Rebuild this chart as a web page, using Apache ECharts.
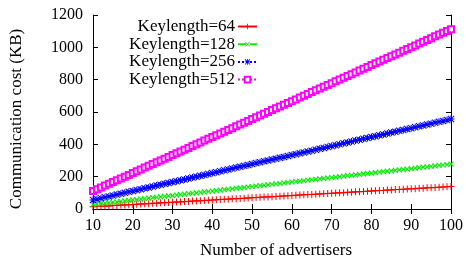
<!DOCTYPE html>
<html>
<head>
    <meta charset="utf-8">
    <script src="https://cdn.jsdelivr.net/npm/echarts@6/dist/echarts.min.js"></script>
</head>
<body style="margin:0;background:#fff;">
    <div id="container" style="width:466px;height:259px;"></div>
    <script type="text/javascript">
        // number of advertisers (x)
        var advertisers = [10, 11, 12, 13, 14, 15, 16, 17, 18, 19, 20, 21, 22, 23, 24, 25, 26, 27, 28, 29,
            30, 31, 32, 33, 34, 35, 36, 37, 38, 39, 40, 41, 42, 43, 44, 45, 46, 47, 48, 49,
            50, 51, 52, 53, 54, 55, 56, 57, 58, 59, 60, 61, 62, 63, 64, 65, 66, 67, 68, 69,
            70, 71, 72, 73, 74, 75, 76, 77, 78, 79, 80, 81, 82, 83, 84, 85, 86, 87, 88, 89,
            90, 91, 92, 93, 94, 95, 96, 97, 98, 99, 100];
        var cost64 = [14, 15, 17, 18, 19, 21, 22, 24, 25, 26, 28, 29, 31, 32, 33, 35, 36, 38, 39, 40,
            42, 43, 44, 46, 47, 49, 50, 51, 53, 54, 56, 57, 58, 60, 61, 63, 64, 65, 67, 68,
            70, 71, 72, 74, 75, 76, 78, 79, 81, 82, 83, 85, 86, 88, 89, 90, 92, 93, 95, 96,
            97, 99, 100, 101, 103, 104, 106, 107, 108, 110, 111, 113, 114, 115, 117, 118, 120, 121, 122, 124,
            125, 126, 128, 129, 131, 132, 133, 135, 136, 138, 139];
        var cost128 = [28, 31, 33, 36, 39, 42, 44, 47, 50, 53, 56, 58, 61, 64, 67, 70, 72, 75, 78, 81,
            83, 86, 89, 92, 95, 97, 100, 103, 106, 108, 111, 114, 117, 120, 122, 125, 128, 131, 133, 136,
            139, 142, 145, 147, 150, 153, 156, 158, 161, 164, 167, 170, 172, 175, 178, 181, 183, 186, 189, 192,
            195, 197, 200, 203, 206, 209, 211, 214, 217, 220, 222, 225, 228, 231, 234, 236, 239, 242, 245, 247,
            250, 253, 256, 259, 261, 264, 267, 270, 272, 275, 278];
        var cost256 = [56, 61, 67, 72, 78, 83, 89, 95, 100, 106, 111, 117, 122, 128, 133, 139, 145, 150, 156, 161,
            167, 172, 178, 183, 189, 195, 200, 206, 211, 217, 222, 228, 234, 239, 245, 250, 256, 261, 267, 272,
            278, 284, 289, 295, 300, 306, 311, 317, 322, 328, 334, 339, 345, 350, 356, 361, 367, 373, 378, 384,
            389, 395, 400, 406, 411, 417, 423, 428, 434, 439, 445, 450, 456, 461, 467, 473, 478, 484, 489, 495,
            500, 506, 512, 517, 523, 528, 534, 539, 545, 550, 556];
        var cost512 = [111, 122, 133, 145, 156, 167, 178, 189, 200, 211, 222, 234, 245, 256, 267, 278, 289, 300, 311, 322,
            334, 345, 356, 367, 378, 389, 400, 411, 423, 434, 445, 456, 467, 478, 489, 500, 512, 523, 534, 545,
            556, 567, 578, 589, 600, 612, 623, 634, 645, 656, 667, 678, 689, 701, 712, 723, 734, 745, 756, 767,
            778, 790, 801, 812, 823, 834, 845, 856, 867, 878, 890, 901, 912, 923, 934, 945, 956, 967, 979, 990,
            1001, 1012, 1023, 1034, 1045, 1056, 1068, 1079, 1090, 1101, 1112];
        var seriesNames = ['Keylength=64', 'Keylength=128', 'Keylength=256', 'Keylength=512'];

        var font = 'Liberation Serif';
        var plusPath = 'path://M0,3 L7,3 L7,4 L0,4 Z M3,0 L4,0 L4,7 L3,7 Z';
        var starPath = 'path://M0,3 L7,3 L7,4 L0,4 Z M3,0 L4,0 L4,7 L3,7 Z M0.7,0 L3.5,2.8 L6.3,0 L7,0.7 L4.2,3.5 L7,6.3 L6.3,7 L3.5,4.2 L0.7,7 L0,6.3 L2.8,3.5 L0,0.7 Z';

        function pairs(ys) {
            var out = [];
            for (var i = 0; i < advertisers.length; i++) {
                out.push([advertisers[i], ys[i]]);
            }
            return out;
        }
        function makeSeries(name, ys, color, symbol, size, rotate, lineType) {
            return {
                name: name,
                type: 'line',
                data: pairs(ys),
                symbol: symbol,
                symbolSize: size,
                symbolRotate: rotate,
                showAllSymbol: true,
                animation: false,
                itemStyle: { color: color, borderColor: color, borderWidth: symbol === 'emptyRect' ? 1 : 0 },
                lineStyle: { color: color, width: 1, type: lineType }
            };
        }

        var axisCommon = {
            type: 'value',
            axisLine: { show: true, lineStyle: { color: '#000', width: 1 } },
            axisTick: { show: true, inside: true, length: 5, lineStyle: { color: '#000' } },
            splitLine: { show: false }
        };

        var myChart = echarts.init(document.getElementById('container'));
        var option = {
            backgroundColor: '#fff',
            animation: false,
            grid: { left: 93, right: 15, top: 15, bottom: 50, outerBoundsMode: 'none', containLabel: false },
            legend: {
                orient: 'vertical',
                right: 208,
                top: 18,
                padding: 0,
                align: 'right',
                itemWidth: 19,
                itemHeight: 7,
                itemGap: 0.7,
                textStyle: { fontFamily: font, fontSize: 17, lineHeight: 16, color: '#000', padding: [0, -2, 0, 0] },
                data: seriesNames
            },
            xAxis: [
                Object.assign({}, axisCommon, {
                    min: 10, max: 100, interval: 10,
                    name: 'Number of advertisers',
                    nameLocation: 'middle',
                    nameGap: 33,
                    nameTextStyle: { fontFamily: font, fontSize: 17, color: '#000', padding: [0, 0, 0, 8] },
                    axisLabel: { fontFamily: font, fontSize: 16, color: '#000', margin: 9 }
                }),
                Object.assign({}, axisCommon, {
                    position: 'top', min: 10, max: 100, interval: 10,
                    axisLabel: { show: false }
                })
            ],
            yAxis: [
                Object.assign({}, axisCommon, {
                    min: 0, max: 1200, interval: 200,
                    name: 'Communication cost (KB)',
                    nameLocation: 'middle',
                    nameGap: 68,
                    nameTextStyle: { fontFamily: font, fontSize: 17, color: '#000', padding: [0, 14, 0, 0] },
                    axisLabel: {
                        fontFamily: font, fontSize: 16, color: '#000', margin: 10,
                        formatter: function (v) { return String(v); }
                    }
                }),
                Object.assign({}, axisCommon, {
                    position: 'right', min: 0, max: 1200, interval: 200,
                    axisLabel: { show: false }
                })
            ],
            series: [
                makeSeries(seriesNames[0], cost64, '#ff0000', plusPath, 7, 0, 'solid'),
                makeSeries(seriesNames[1], cost128, '#00ee00', plusPath, 7, 45, 'dashed'),
                makeSeries(seriesNames[2], cost256, '#0000ff', starPath, 7, 0, 'dotted'),
                makeSeries(seriesNames[3], cost512, '#ff00ff', 'emptyRect', 6, 0, 'dotted')
            ]
        };
        myChart.setOption(option);
    </script>
</body>
</html>
